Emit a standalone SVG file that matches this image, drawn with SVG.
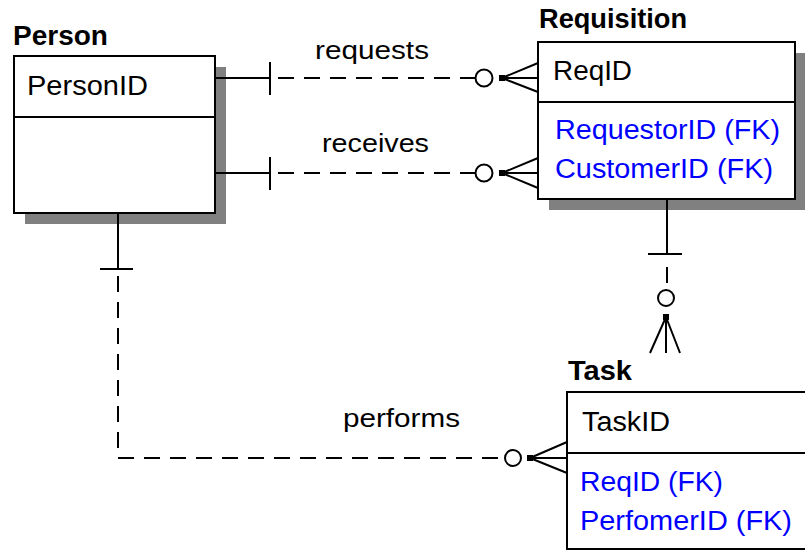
<svg xmlns="http://www.w3.org/2000/svg" width="805" height="551" viewBox="0 0 805 551">
  <style>
    .title { font-family: "Liberation Sans", Arial, sans-serif; font-weight: bold; font-size: 27px; fill: #000; }
    .key { font-family: "Liberation Sans", Arial, sans-serif; font-size: 27px; fill: #000; }
    .fk { font-family: "Liberation Sans", Arial, sans-serif; font-size: 27px; fill: #0000ff; }
    .rel { font-family: "Liberation Sans", Arial, sans-serif; font-size: 26px; fill: #000; }
    .box { fill: #fff; stroke: #000; stroke-width: 2; }
    .shadow { fill: #808080; }
    .sep { stroke: #000; stroke-width: 2; }
    .solid { stroke: #000; stroke-width: 2; fill: none; }
    .dash { stroke: #000; stroke-width: 2; fill: none; stroke-dasharray: 16 10; }
    .ring { stroke: #000; stroke-width: 2; fill: #fff; }
    .dot { fill: #000; }
  </style>
  <rect width="805" height="551" fill="#fff"/>

  <!-- Person entity -->
  <g id="person">
    <rect class="shadow" x="25" y="67" width="201" height="157"/>
    <rect class="box" x="14" y="56" width="201" height="157"/>
    <line class="sep" x1="14" y1="117" x2="215" y2="117"/>
    <text class="title" x="13" y="45" textLength="95" lengthAdjust="spacingAndGlyphs">Person</text>
    <text class="key" x="27" y="95" textLength="121" lengthAdjust="spacingAndGlyphs">PersonID</text>
  </g>

  <!-- Requisition entity -->
  <g id="requisition">
    <rect class="shadow" x="549" y="53" width="257" height="157"/>
    <rect class="box" x="538" y="42" width="257" height="157"/>
    <line class="sep" x1="538" y1="102" x2="795" y2="102"/>
    <text class="title" x="539" y="28" textLength="148" lengthAdjust="spacingAndGlyphs">Requisition</text>
    <text class="key" x="553" y="80" textLength="79" lengthAdjust="spacingAndGlyphs">ReqID</text>
    <text class="fk" x="555" y="139" textLength="225" lengthAdjust="spacingAndGlyphs">RequestorID (FK)</text>
    <text class="fk" x="555" y="178" textLength="218" lengthAdjust="spacingAndGlyphs">CustomerID (FK)</text>
  </g>

  <!-- Task entity (runs past the right edge) -->
  <g id="task">
    <rect class="box" x="567" y="392" width="260" height="157"/>
    <line class="sep" x1="567" y1="453" x2="827" y2="453"/>
    <text class="title" x="568" y="380" textLength="64" lengthAdjust="spacingAndGlyphs">Task</text>
    <text class="key" x="582" y="431" textLength="88" lengthAdjust="spacingAndGlyphs">TaskID</text>
    <text class="fk" x="580" y="491" textLength="143" lengthAdjust="spacingAndGlyphs">ReqID (FK)</text>
    <text class="fk" x="580" y="530" textLength="212" lengthAdjust="spacingAndGlyphs">PerfomerID (FK)</text>
  </g>

  <!-- Relationships -->
  <g id="connectors">
    <!-- Person requests Requisition -->
    <line class="solid" x1="215" y1="78" x2="270" y2="78"/>
    <line class="solid" x1="270" y1="62" x2="270" y2="95"/>
    <line class="dash" x1="278" y1="78" x2="475" y2="78"/>
    <circle class="ring" cx="484" cy="78" r="8.5"/>
    <rect class="dot" x="499" y="75" width="6" height="6"/>
    <path class="solid" d="M502 78 L538 63 M502 78 L538 78 M502 78 L538 92"/>
    <text class="rel" x="315" y="59" textLength="114" lengthAdjust="spacingAndGlyphs">requests</text>

    <!-- Person receives Requisition -->
    <line class="solid" x1="215" y1="173" x2="270" y2="173"/>
    <line class="solid" x1="270" y1="157" x2="270" y2="190"/>
    <line class="dash" x1="278" y1="173" x2="475" y2="173"/>
    <circle class="ring" cx="484" cy="173" r="8.5"/>
    <rect class="dot" x="499" y="170" width="6" height="6"/>
    <path class="solid" d="M502 173 L538 158 M502 173 L538 173 M502 173 L538 188"/>
    <text class="rel" x="322" y="152" textLength="107" lengthAdjust="spacingAndGlyphs">receives</text>

    <!-- Requisition has Task -->
    <line class="solid" x1="667" y1="199" x2="667" y2="254"/>
    <line class="solid" x1="648" y1="254" x2="682" y2="254"/>
    <line class="dash" x1="667" y1="267" x2="667" y2="289"/>
    <circle class="ring" cx="666" cy="298" r="8"/>
    <rect class="dot" x="663" y="314" width="6" height="6"/>
    <path class="solid" d="M666 317 L650 353 M666 317 L666 353 M666 317 L680 353"/>

    <!-- Person performs Task -->
    <line class="solid" x1="118" y1="213" x2="118" y2="269"/>
    <line class="solid" x1="100" y1="269" x2="133" y2="269"/>
    <path class="dash" d="M118 276 L118 458 L505 458"/>
    <circle class="ring" cx="513" cy="458" r="8"/>
    <rect class="dot" x="527" y="455" width="6" height="6"/>
    <path class="solid" d="M530 458 L567 442 M530 458 L567 458 M530 458 L567 473"/>
    <text class="rel" x="343" y="427" textLength="117" lengthAdjust="spacingAndGlyphs">performs</text>
  </g>
</svg>
